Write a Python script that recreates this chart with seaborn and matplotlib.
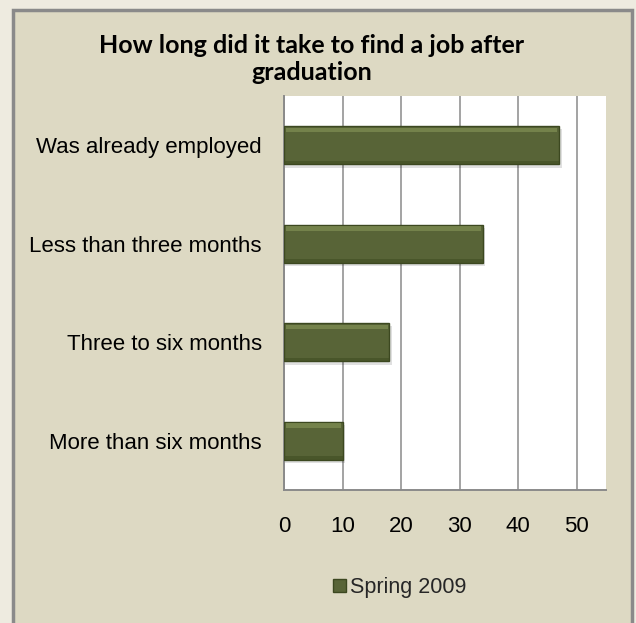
import pandas as pd
import matplotlib.pyplot as plt
import matplotlib.patches as mpatches
import seaborn as sns

# data
categories = ["Was already employed", "Less than three months",
              "Three to six months", "More than six months"]
values = [47, 34, 18, 10]
series_name = "Spring 2009"

df = pd.DataFrame({"category": categories, "value": values, "series": series_name})

sns.set_style("white")
plt.rcParams["font.family"] = ["Liberation Sans", "DejaVu Sans"]

fig = plt.figure(figsize=(6.36, 6.23), dpi=100, facecolor="#eeebe0")

# chart frame
frame = mpatches.Rectangle((13 / 636, -0.05), (632 - 13) / 636, 1.05 - 10 / 623,
                           transform=fig.transFigure, facecolor="#ddd9c3",
                           edgecolor="#8a8a8a", linewidth=2.5, zorder=-5)
fig.patches.append(frame)

ax = fig.add_axes([284 / 636, 1 - 490 / 623, (606 - 284) / 636, (490 - 96) / 623])
ax.set_facecolor("white")

bar_color = "#5b6b2f"
sns.barplot(data=df, y="category", x="value", hue="series", orient="h",
            palette=[bar_color], width=0.39, edgecolor="#3c4820", linewidth=1.0,
            ax=ax, zorder=3, legend=True)

# bevel-ish highlight and soft shadow, taken from the drawn bars
for p in list(ax.patches):
    x0, y0, w, h = p.get_x(), p.get_y(), p.get_width(), p.get_height()
    shadow = mpatches.Rectangle((x0, y0 + h * 0.08), w + 0.4, h, facecolor="#000000",
                                alpha=0.12, linewidth=0, zorder=2)
    ax.add_patch(shadow)
    hi = mpatches.Rectangle((x0 + 0.3, y0 + h * 0.05), w - 0.6, h * 0.11,
                            facecolor="#8c9c5c", alpha=0.55, linewidth=0, zorder=4)
    ax.add_patch(hi)
    lo = mpatches.Rectangle((x0, y0 + h * 0.9), w, h * 0.1,
                            facecolor="#404d22", alpha=0.6, linewidth=0, zorder=4)
    ax.add_patch(lo)

ax.set_xlim(0, 55)
ax.set_ylim(3.5, -0.5)
ax.set_xticks([0, 10, 20, 30, 40, 50])
ax.set_xlabel("")
ax.set_ylabel("")

ax.xaxis.grid(True, color="#8a8a8a", linewidth=1.1, zorder=1)
ax.set_axisbelow(True)

for side in ["top", "right"]:
    ax.spines[side].set_visible(False)
for side in ["left", "bottom"]:
    ax.spines[side].set_color("#8a8a8a")
    ax.spines[side].set_linewidth(1.4)

ax.set_yticks([-0.5, 0.5, 1.5, 2.5, 3.5], minor=True)
ax.tick_params(axis="y", which="major", length=0, pad=16, labelsize=16, labelcolor="black")
ax.tick_params(axis="y", which="minor", length=7, color="#8a8a8a", width=1.2)
ax.tick_params(axis="x", which="major", length=7, color="#8a8a8a", width=1.2,
               pad=12, labelsize=16, labelcolor="black")

fig.text(312 / 636, 1 - 59 / 623,
         "How long did it take to find a job after\ngraduation",
         ha="center", va="center", fontsize=18, fontweight="bold", color="black",
         family=["Lato", "DejaVu Sans"], linespacing=1.25)

handles, labels = ax.get_legend_handles_labels()
ax.legend(handles, labels, loc="center", bbox_to_anchor=(400 / 636, 1 - 588 / 623),
          bbox_transform=fig.transFigure, frameon=False, fontsize=15.5,
          handlelength=0.6, handleheight=0.55, handletextpad=0.2)

fig.savefig("out.png", dpi=100, facecolor=fig.get_facecolor())
